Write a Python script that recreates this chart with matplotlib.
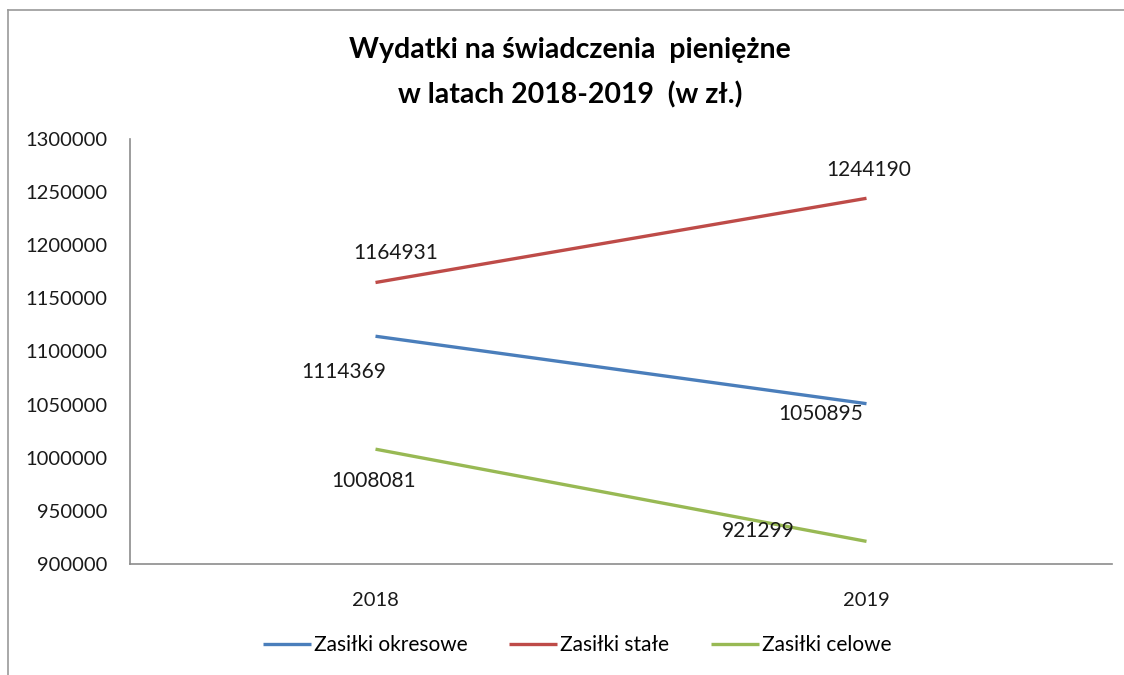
import matplotlib.pyplot as plt
from matplotlib.lines import Line2D

years = ['2018', '2019']
okresowe = [1114369, 1050895]
stale = [1164931, 1244190]
celowe = [1008081, 921299]

plt.rcParams['font.family'] = ['Lato', 'DejaVu Sans']

fig = plt.figure(figsize=(11.24, 6.75), dpi=100)
ax = fig.add_axes([130 / 1124, 1 - 564 / 675, 982 / 1124, 425 / 675])

x = [0, 1]
ax.plot(x, okresowe, color='#4A7EBB', lw=2.4, label='Zasiłki okresowe', solid_capstyle='butt')
ax.plot(x, stale, color='#BE4B48', lw=2.4, label='Zasiłki stałe', solid_capstyle='butt')
ax.plot(x, celowe, color='#98B954', lw=2.4, label='Zasiłki celowe', solid_capstyle='butt')

# data labels, offsets in pixels like the Excel default placement
offsets = {
    'okresowe': [(-32, -36), (-46, -10)],
    'stale': [(20, 30), (2, 28)],
    'celowe': [(-2, -32), (-108, 10)],
}
for key, vals in [('okresowe', okresowe), ('stale', stale), ('celowe', celowe)]:
    for i, v in enumerate(vals):
        ax.annotate(str(v), (x[i], v), xytext=offsets[key][i], textcoords='offset pixels',
                    ha='center', va='center', fontsize=15, color='#1a1a1a')

ax.set_xlim(-0.5, 1.5)
ax.set_ylim(900000, 1300000)
ax.set_yticks(range(900000, 1300001, 50000))
ax.set_yticklabels([str(v) for v in range(900000, 1300001, 50000)])
ax.set_xticks(x)
ax.set_xticklabels(years)
ax.tick_params(length=0, labelsize=14.5, colors='#1a1a1a')
ax.tick_params(axis='y', pad=16)
ax.tick_params(axis='x', pad=20)
for s in ['top', 'right']:
    ax.spines[s].set_visible(False)
for s in ['left', 'bottom']:
    ax.spines[s].set_color('#8c8c8c')
    ax.spines[s].set_linewidth(1.2)

fig.text(570 / 1124, 1 - 50 / 675, 'Wydatki na świadczenia  pieniężne', ha='center', va='center',
         fontsize=20.5, fontweight='bold')
fig.text(570 / 1124, 1 - 95 / 675, 'w latach 2018-2019  (w zł.)', ha='center', va='center',
         fontsize=20.5, fontweight='bold')

leg = fig.legend(loc='center', bbox_to_anchor=(577 / 1124, 1 - 645 / 675), ncol=3, frameon=False,
                 fontsize=15, handlelength=2.3, handletextpad=0.15, columnspacing=2.0)

# chart area border (left and top edges)
fig.add_artist(Line2D([8 / 1124, 8 / 1124], [0, 1 - 10 / 675], color='#9a9a9a', lw=1.2))
fig.add_artist(Line2D([8 / 1124, 1], [1 - 10 / 675, 1 - 10 / 675], color='#9a9a9a', lw=1.2))

fig.savefig('out.png', dpi=100)
